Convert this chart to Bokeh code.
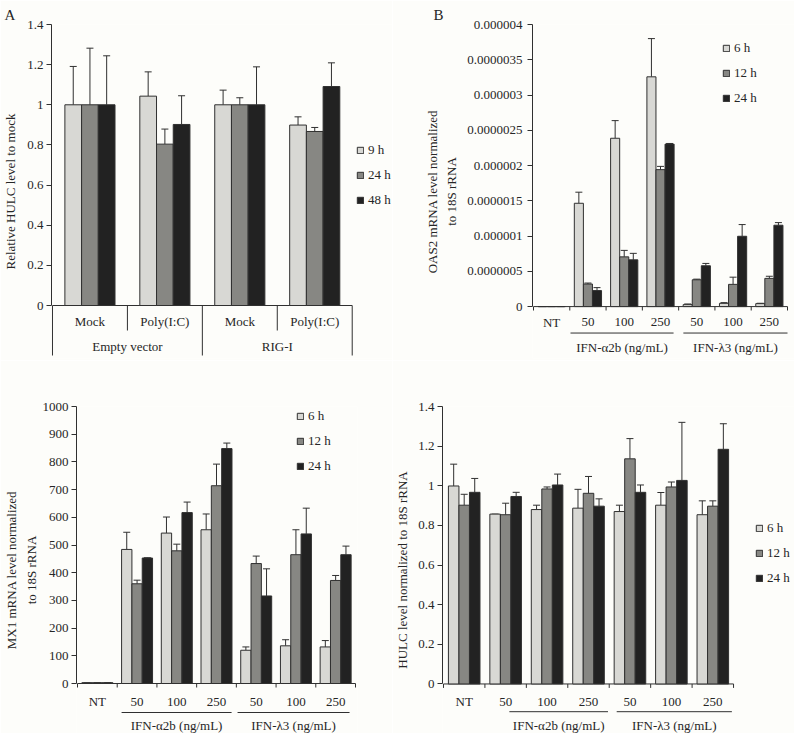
import numpy as np
from bokeh.plotting import figure
from bokeh.models import (Range1d, FixedTicker, Legend, LegendItem, Whisker, Title,
                          ColumnDataSource, TeeHead, LinearAxis, CustomJSTickFormatter)
from bokeh.layouts import column, row
from bokeh.embed import file_html
from bokeh.resources import INLINE
from bokeh.core.properties import value

FONT = "Liberation Serif"
TXT = "#262626"
EDGE = "#303030"
FILLS = ["#d8d8d4", "#878783", "#222222"]
BG = "#fdfdfa"

# ---------------- data ----------------
# Panel A
a_groups = ["Empty vector", "RIG-I"]
a_treatments = ["Mock", "Poly(I:C)", "Mock", "Poly(I:C)"]
a_series = ["9 h", "24 h", "48 h"]
a_9h = [1.000, 1.043, 1.000, 0.899]
a_24h = [1.000, 0.804, 1.000, 0.867]
a_48h = [1.000, 0.902, 1.000, 1.091]
a_9h_err = [0.191, 0.121, 0.073, 0.041]
a_24h_err = [0.282, 0.075, 0.035, 0.020]
a_48h_err = [0.244, 0.143, 0.189, 0.118]
a_yticks = [0, 0.2, 0.4, 0.6, 0.8, 1.0, 1.2, 1.4]
a_ylabels = ["0", "0.2", "0.4", "0.6", "0.8", "1", "1.2", "1.4"]

# Dose panels (B, C, D)
dose_labels = ["NT", "50", "100", "250", "50", "100", "250"]
dose_group_of = ["", "IFN-\u03b12b (ng/mL)", "IFN-\u03b12b (ng/mL)", "IFN-\u03b12b (ng/mL)",
                 "IFN-\u03bb3 (ng/mL)", "IFN-\u03bb3 (ng/mL)", "IFN-\u03bb3 (ng/mL)"]
time_series = ["6 h", "12 h", "24 h"]

# Panel B: OAS2
oas2_6h = [0, 1.465e-6, 2.387e-6, 3.258e-6, 0.028e-6, 0.046e-6, 0.042e-6]
oas2_6h_err = [0, 0.157e-6, 0.250e-6, 0.542e-6, 0.009e-6, 0.010e-6, 0.005e-6]
oas2_12h = [0, 0.320e-6, 0.705e-6, 1.942e-6, 0.380e-6, 0.315e-6, 0.400e-6]
oas2_12h_err = [0, 0.014e-6, 0.092e-6, 0.046e-6, 0.009e-6, 0.102e-6, 0.030e-6]
oas2_24h = [0, 0.227e-6, 0.663e-6, 2.304e-6, 0.579e-6, 0.997e-6, 1.154e-6]
oas2_24h_err = [0, 0.042e-6, 0.092e-6, 0.009e-6, 0.033e-6, 0.166e-6, 0.037e-6]
b_yticks = [0, 0.5e-6, 1.0e-6, 1.5e-6, 2.0e-6, 2.5e-6, 3.0e-6, 3.5e-6, 4.0e-6]
b_ylabels = ["0", "0.0000005", "0.000001", "0.0000015", "0.000002",
             "0.0000025", "0.000003", "0.0000035", "0.000004"]

# Panel C: MX1
mx1_6h = [3, 484, 543, 555, 120, 136, 132]
mx1_6h_err = [0, 62, 58, 57, 12, 22, 23]
mx1_12h = [3, 360, 479, 714, 433, 465, 372]
mx1_12h_err = [0, 13, 24, 78, 27, 90, 18]
mx1_24h = [3, 453, 617, 848, 316, 540, 465]
mx1_24h_err = [0, 1, 38, 20, 98, 93, 31]
c_yticks = [0, 100, 200, 300, 400, 500, 600, 700, 800, 900, 1000]
c_ylabels = ["0", "100", "200", "300", "400", "500", "600", "700", "800", "900", "1000"]

# Panel D: HULC
hulc_6h = [0.999, 0.857, 0.880, 0.887, 0.870, 0.902, 0.854]
hulc_6h_err = [0.110, 0.0, 0.022, 0.095, 0.032, 0.064, 0.070]
hulc_12h = [0.902, 0.854, 0.984, 0.962, 1.136, 0.994, 0.897]
hulc_12h_err = [0.055, 0.058, 0.010, 0.085, 0.102, 0.025, 0.027]
hulc_24h = [0.967, 0.946, 1.004, 0.897, 0.967, 1.027, 1.184]
hulc_24h_err = [0.070, 0.021, 0.055, 0.037, 0.037, 0.293, 0.129]
d_yticks = [0, 0.2, 0.4, 0.6, 0.8, 1.0, 1.2, 1.4]
d_ylabels = ["0", "0.2", "0.4", "0.6", "0.8", "1", "1.2", "1.4"]


# ---------------- helpers ----------------
def base_fig(width, height, fl, fend, ffull, ft, fz, fb, ncat, ytop, ticks, labels,
             tick_out=5, lab_standoff=3):
    """fl: px of first category boundary, fend: px of last boundary,
    ffull: px of frame right edge, ft/fz/fb: px of ytop / zero / frame bottom."""
    upp = ytop / (fz - ft)               # data units per pixel (y)
    ystart = -(fb - fz) * upp
    catw = (fend - fl) / ncat             # px per category
    p = figure(width=width, height=height, output_backend="svg", toolbar_location=None,
               title=None, x_axis_location=None, y_axis_location="left",
               x_range=Range1d(-0.5 - 1.0 / catw, -0.5 + (ffull - fl) / catw),
               y_range=Range1d(ystart, ytop),
               min_border_left=fl - 1, min_border_right=width - ffull,
               min_border_top=ft, min_border_bottom=height - fb)
    p.background_fill_color = BG
    p.border_fill_color = BG
    p.outline_line_color = None
    p.xgrid.visible = False
    p.ygrid.visible = False
    ax = p.yaxis[0]
    ax.ticker = FixedTicker(ticks=ticks)
    ax.formatter = CustomJSTickFormatter(args=dict(labels=labels), code="return labels[index];")
    ax.bounds = (0, ytop)
    ax.axis_line_color = EDGE
    ax.major_tick_line_color = EDGE
    ax.minor_tick_line_color = None
    ax.major_tick_out = tick_out
    ax.major_tick_in = 0
    ax.major_label_standoff = lab_standoff
    ax.major_label_text_font = FONT
    ax.major_label_text_font_size = "13px"
    ax.major_label_text_color = TXT
    ax.axis_label_text_font = FONT
    ax.axis_label_text_font_size = "13px"
    ax.axis_label_text_font_style = "normal"
    ax.axis_label_text_color = TXT
    # category (x) baseline at zero
    p.segment(x0=[-0.5], y0=[0], x1=[ncat - 0.5], y1=[0], line_color=EDGE, line_width=1)
    return p, upp


def outer_label(p, text, standoff, ytop):
    ax = LinearAxis(axis_label=text, ticker=FixedTicker(ticks=[]), bounds=(0, ytop))
    ax.axis_line_color = None
    ax.major_tick_line_color = None
    ax.minor_tick_line_color = None
    ax.major_tick_out = 0
    ax.minor_tick_out = 0
    ax.major_label_standoff = 0
    ax.major_label_text_font_size = "0px"
    ax.axis_label_standoff = standoff
    ax.axis_label_text_font = FONT
    ax.axis_label_text_font_size = "13px"
    ax.axis_label_text_font_style = "normal"
    ax.axis_label_text_color = TXT
    p.add_layout(ax, "left")


def add_bars(p, ncat, vals, errs, width, names, legend_loc):
    idx = np.arange(ncat)
    items = []
    for s, (v, e) in enumerate(zip(vals, errs)):
        x = idx + (s - 1) * width
        src = ColumnDataSource(dict(x=x, top=v, upper=np.array(v) + np.array(e)))
        r = p.vbar(x="x", top="top", bottom=0, width=width, source=src,
                   fill_color=FILLS[s], line_color=EDGE, line_width=1)
        p.add_layout(Whisker(source=src, base="x", upper="upper", lower="top",
                             dimension="height", line_color=EDGE, line_width=1,
                             upper_head=TeeHead(size=7, line_color=EDGE, line_width=1),
                             lower_head=None))
        items.append(LegendItem(label=names[s], renderers=[r]))
    leg = Legend(items=items, location=legend_loc, orientation="vertical",
                 glyph_width=8, glyph_height=8, label_standoff=4, label_height=17,
                 spacing=8, padding=0, margin=0, border_line_color=None,
                 background_fill_alpha=0, label_text_font=FONT,
                 label_text_font_size="13px", label_text_color=TXT)
    p.add_layout(leg)


def dose_axis(p, upp, lab_px, line_px, grp_px, spans):
    n = len(dose_labels)
    idx = np.arange(n)
    bounds = np.arange(n + 1) - 0.5
    p.segment(x0=bounds, y0=0, x1=bounds, y1=-4 * upp, line_color=EDGE, line_width=1)
    p.text(x=idx, y=[-lab_px * upp] * n, text=dose_labels, text_font=value(FONT),
           text_font_size="13px", text_align="center", text_baseline="middle",
           text_color=TXT)
    groups = [g for g in dict.fromkeys(dose_group_of) if g]
    gx, x0s, x1s = [], [], []
    for g, (a, b) in zip(groups, spans):
        members = [i for i, gg in enumerate(dose_group_of) if gg == g]
        lo, hi = members[0] - 0.5 + a, members[-1] + 0.5 - b
        x0s.append(lo); x1s.append(hi); gx.append((lo + hi) / 2)
    p.segment(x0=x0s, y0=[-line_px * upp] * len(x0s), x1=x1s, y1=[-line_px * upp] * len(x0s),
              line_color=EDGE, line_width=1)
    p.text(x=gx, y=[-grp_px * upp] * len(gx), text=groups, text_font=value(FONT),
           text_font_size="13px", text_align="center", text_baseline="middle",
           text_color=TXT)


def panel_letter(p, letter, xoff):
    p.add_layout(Title(text=letter, align="left", offset=xoff, standoff=0,
                       vertical_align="top", text_font=FONT, text_font_size="15px",
                       text_font_style="normal", text_color=TXT), "above")


# ---------------- Panel A ----------------
nA = len(a_treatments)
pA, uA = base_fig(392, 360, 46, 351, 392, 24, 305, 358, nA, 1.4, a_yticks, a_ylabels,
                  tick_out=5, lab_standoff=3)
pA.yaxis[0].axis_label = "Relative HULC level to mock"
pA.yaxis[0].axis_label_standoff = 6
add_bars(pA, nA, [a_9h, a_24h, a_48h], [a_9h_err, a_24h_err, a_48h_err],
         0.223, a_series, (305, 150))
idxA = np.arange(nA)
per = nA // len(a_groups)
allb = np.arange(nA + 1) - 0.5
long_b = [b for k, b in enumerate(allb) if k % per == 0]
short_b = [b for k, b in enumerate(allb) if k % per != 0]
pA.segment(x0=long_b, y0=0, x1=long_b, y1=-50 * uA, line_color=EDGE, line_width=1)
pA.segment(x0=short_b, y0=0, x1=short_b, y1=-25 * uA, line_color=EDGE, line_width=1)
pA.text(x=idxA, y=[-16 * uA] * nA, text=a_treatments, text_font=value(FONT),
        text_font_size="13px", text_align="center", text_baseline="middle", text_color=TXT)
gcent = [np.mean(idxA[g * per:(g + 1) * per]) for g in range(len(a_groups))]
pA.text(x=gcent, y=[-41 * uA] * len(a_groups), text=a_groups, text_font=value(FONT),
        text_font_size="13px", text_align="center", text_baseline="middle", text_color=TXT)
panel_letter(pA, "A", -47)

# ---------------- Panel B ----------------
nD = len(dose_labels)
pB, uB = base_fig(402, 360, 141, 395, 402, 17, 305, 358, nD, 4e-6, b_yticks, b_ylabels,
                  tick_out=5, lab_standoff=5)
pB.yaxis[0].axis_label = "to 18S rRNA"
pB.yaxis[0].axis_label_standoff = 5
outer_label(pB, "OAS2 mRNA level normalized", 2, 4e-6)
add_bars(pB, nD, [oas2_6h, oas2_12h, oas2_24h],
         [oas2_6h_err, oas2_12h_err, oas2_24h_err], 0.25, time_series, (190, 252))
dose_axis(pB, uB, 16, 27, 42, [(0.02, 0.14), (0.13, 0.0)])
panel_letter(pB, "B", -99)

# ---------------- Panel C ----------------
pC, uC = base_fig(392, 373, 77, 355, 357, 46, 323, 373, nD, 1000, c_yticks, c_ylabels,
                  tick_out=5, lab_standoff=3)
pC.yaxis[0].axis_label = "to 18S rRNA"
pC.yaxis[0].axis_label_standoff = 1
outer_label(pC, "MX1 mRNA level normalized", 2, 1000)
add_bars(pC, nD, [mx1_6h, mx1_12h, mx1_24h],
         [mx1_6h_err, mx1_12h_err, mx1_24h_err], 0.26, time_series, (220, 259))
dose_axis(pC, uC, 18, 29, 42, [(0.11, 0.12), (0.03, 0.15)])

# ---------------- Panel D ----------------
pD, uD = base_fig(402, 373, 45, 340, 402, 43, 323, 373, nD, 1.4, d_yticks, d_ylabels,
                  tick_out=5, lab_standoff=3)
pD.yaxis[0].axis_label = "HULC level normalized to 18S rRNA"
pD.yaxis[0].axis_label_standoff = 5
add_bars(pD, nD, [hulc_6h, hulc_12h, hulc_24h],
         [hulc_6h_err, hulc_12h_err, hulc_24h_err], 0.254, time_series, (313, 147))
dose_axis(pD, uD, 18, 28, 42, [(0.59, 0.03), (0.18, 0.04)])

layout = column(row(pA, pB), row(pC, pD))
open("out.html", "w").write(file_html(layout, INLINE))
